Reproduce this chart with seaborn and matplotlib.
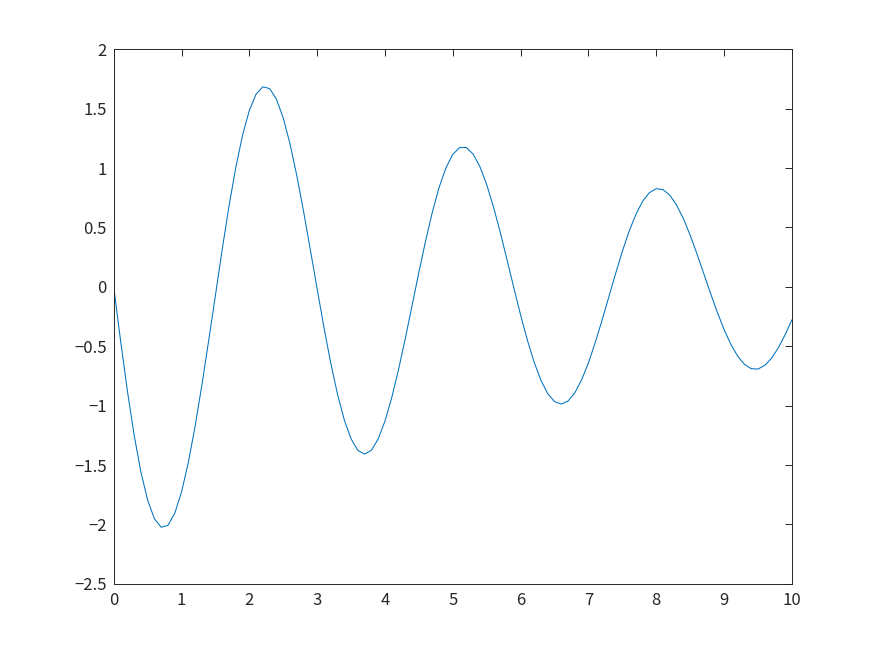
import numpy as np
import pandas as pd
import matplotlib
matplotlib.use("Agg")
import matplotlib.pyplot as plt
import seaborn as sns

# values, x = 0, 0.1, ..., 10
x_values = [round(0.1 * i, 1) for i in range(101)]
y_values = [
    0.000, -0.451, -0.872, -1.246, -1.558, -1.796, -1.953, -2.024, -2.007, -1.905,
    -1.726, -1.478, -1.173, -0.826, -0.452, -0.069, 0.317, 0.681, 1.006, 1.278,
    1.486, 1.623, 1.684, 1.668, 1.578, 1.420, 1.201, 0.934, 0.632, 0.309,
    -0.020, -0.343, -0.642, -0.905, -1.121, -1.280, -1.377, -1.408, -1.375, -1.280,
    -1.129, -0.931, -0.695, -0.433, -0.155, 0.123, 0.390, 0.633, 0.841, 1.003,
    1.115, 1.172, 1.172, 1.117, 1.011, 0.860, 0.672, 0.458, 0.226, -0.009,
    -0.238, -0.450, -0.636, -0.788, -0.899, -0.966, -0.987, -0.961, -0.892, -0.782,
    -0.640, -0.469, -0.283, -0.086, 0.110, 0.299, 0.468, 0.610, 0.721, 0.793,
    0.826, 0.818, 0.771, 0.688, 0.574, 0.435, 0.278, 0.113, -0.054, -0.214,
    -0.359, -0.484, -0.583, -0.652, -0.689, -0.692, -0.662, -0.601, -0.514, -0.404,
    -0.278,
]
x_ticks = [0, 1, 2, 3, 4, 5, 6, 7, 8, 9, 10]
y_ticks = [-2.5, -2, -1.5, -1, -0.5, 0, 0.5, 1, 1.5, 2]
y_tick_labels = ["\u22122.5", "\u22122", "\u22121.5", "\u22121", "\u22120.5", "0", "0.5", "1", "1.5", "2"]

sns.set_style("white")
plt.rcParams["font.family"] = ["Noto Sans CJK JP", "DejaVu Sans"]

df = pd.DataFrame({"x": x_values, "y": y_values})

fig = plt.figure(figsize=(8.75, 6.56), dpi=100)
ax = fig.add_axes([0.13, 0.11, 0.775, 0.815])
sns.lineplot(data=df, x="x", y="y", ax=ax, color="#0072BD", linewidth=0.75)

ax.set_xlim(0, 10)
ax.set_ylim(-2.5, 2)
ax.set_xticks(x_ticks)
ax.set_yticks(y_ticks)
ax.set_yticklabels(y_tick_labels)
ax.set_xlabel("")
ax.set_ylabel("")

edge = "#262626"
for side in ["top", "bottom", "left", "right"]:
    ax.spines[side].set_visible(True)
    ax.spines[side].set_color(edge)
    ax.spines[side].set_linewidth(0.7)
ax.tick_params(direction="in", length=5, width=0.7, color=edge,
               top=True, right=True, labelsize=12, labelcolor=edge)
ax.tick_params(axis="x", pad=6)
ax.tick_params(axis="y", pad=5)

fig.savefig("out.png", dpi=100, facecolor="white")
